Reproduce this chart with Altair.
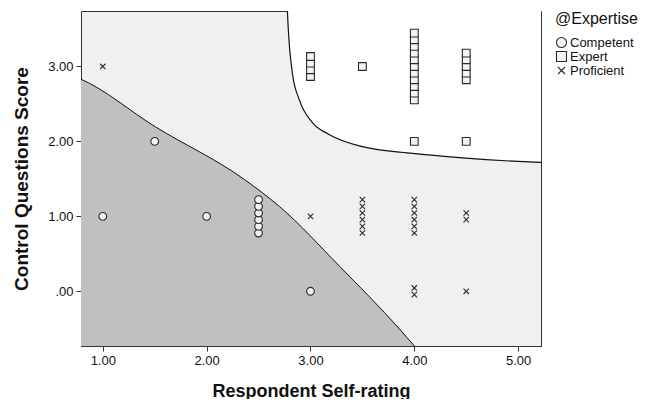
import altair as alt
import pandas as pd

# ---- data ----
comp_x = [1.0, 1.5, 2.0] + [2.5] * 6 + [3.0]
comp_y = [1.0, 2.0, 1.0] + [1.0] * 6 + [0.0]
exp_x = [3.0] * 4 + [3.5] + [4.0] * 11 + [4.5] * 5 + [4.0, 4.5]
exp_y = [3.0] * 4 + [3.0] + [3.0] * 11 + [3.0] * 5 + [2.0, 2.0]
prof_x = [1.0, 3.0] + [3.5] * 6 + [4.0] * 6 + [4.5] * 2 + [4.0] * 2 + [4.5]
prof_y = [3.0, 1.0] + [1.0] * 6 + [1.0] * 6 + [1.0] * 2 + [0.0] * 2 + [0.0]

groups = ["Competent", "Expert", "Proficient"]

# territory boundaries
comp_bx = [0.70, 0.783, 1.506, 2.364, 2.701, 3.280, 3.858, 3.993, 4.05]
comp_by = [2.88, 2.834, 2.195, 1.491, 1.132, 0.334, -0.504, -0.717, -0.80]
exp_bx = [2.775, 2.778, 2.826, 2.894, 3.019, 3.183, 3.501, 3.983, 4.465, 5.207, 5.30]
exp_by = [3.90, 3.74, 2.91, 2.55, 2.25, 2.09, 1.93, 1.84, 1.78, 1.72, 1.715]

x_ticks = [1, 2, 3, 4, 5]
y_ticks = [0, 1, 2, 3]
x_dom = [0.79, 5.22]
y_dom = [-0.73, 3.74]
stack_step = 0.089  # vertical spacing of stacked identical cases

pts = pd.DataFrame({
    "Expertise": ["Competent"] * len(comp_x) + ["Expert"] * len(exp_x) + ["Proficient"] * len(prof_x),
    "x": comp_x + exp_x + prof_x,
    "y": comp_y + exp_y + prof_y,
})
comp_b = pd.DataFrame({"x": comp_bx, "y": comp_by})
exp_b = pd.DataFrame({"x": exp_bx, "y": exp_by})

FONT = "Liberation Sans"
xs = alt.Scale(domain=x_dom, nice=False, zero=False)
ys = alt.Scale(domain=y_dom, nice=False, zero=False)

x_axis = alt.Axis(values=x_ticks, format=".2f", title="Respondent Self-rating",
                  grid=False, tickSize=5, labelPadding=3, titlePadding=15, titleFontSize=18)
y_axis = alt.Axis(values=y_ticks, title="Control Questions Score",
                  labelExpr="datum.value == 0 ? '.00' : format(datum.value, '.2f')",
                  grid=False, tickSize=5, labelPadding=3, titlePadding=16)

dark = alt.Chart(comp_b).mark_area(color="#c0c0c0", clip=True, interpolate="monotone").encode(
    x=alt.X("x:Q", scale=xs, axis=x_axis),
    y=alt.Y("y:Q", scale=ys, axis=y_axis),
    y2=alt.datum(y_dom[0] - 0.2),
)
dark_line = alt.Chart(comp_b).mark_line(color="#111", strokeWidth=1, clip=True, interpolate="monotone").encode(
    x="x:Q", y="y:Q")

white = alt.Chart(exp_b).mark_area(color="#ffffff", clip=True, interpolate="monotone").encode(
    x="x:Q", y="y:Q", y2=alt.datum(y_dom[1] + 0.2))
white_line = alt.Chart(exp_b).mark_line(color="#111", strokeWidth=1.2, clip=True, interpolate="monotone").encode(
    x="x:Q", y="y:Q")

cross = "M-0.7,-0.7L0.7,0.7M-0.7,0.7L0.7,-0.7"
points = alt.Chart(pts).transform_window(
    idx="row_number()", groupby=["Expertise", "x", "y"]
).transform_joinaggregate(
    n="count()", groupby=["Expertise", "x", "y"]
).transform_calculate(
    ypos=f"datum.y + (datum.idx - (datum.n + 1) / 2) * {stack_step}"
).mark_point(fill="#f4f4f4", strokeWidth=1.1, opacity=1, size=60, filled=False).encode(
    x="x:Q",
    y="ypos:Q",
    shape=alt.Shape("Expertise:N",
                    scale=alt.Scale(domain=groups, range=["circle", "square", cross]),
                    title="@Expertise"),
    stroke=alt.Stroke("Expertise:N",
                      scale=alt.Scale(domain=groups, range=["#2a2a2a", "#2a2a2a", "#2a2a2a"]),
                      title="@Expertise"),
)

chart = alt.layer(dark, white, dark_line, white_line, points).properties(
    width=460, height=335,
    autosize=alt.AutoSizeParams(type="none"),
    padding={"left": 73, "top": 3, "right": 98, "bottom": 53},
).configure_view(
    fill="#f0f0f0", stroke="#333333", strokeWidth=1
).configure_axis(
    labelFont=FONT, titleFont=FONT, labelFontSize=13, titleFontSize=19,
    titleFontWeight="bold", labelColor="#111", titleColor="#111",
    domainColor="#333333", tickColor="#333333",
).configure_legend(
    orient="right", offset=14, symbolSize=100, symbolFillColor="transparent",
    symbolStrokeWidth=1.1, labelFontSize=13, titleFontSize=16, titleFontWeight="normal",
    titleFont=FONT, labelFont=FONT, labelColor="#111", titleColor="#111",
    rowPadding=-1, titlePadding=9, labelOffset=2,
)

chart.save("out.html", embed_options={"renderer": "svg", "actions": False})
